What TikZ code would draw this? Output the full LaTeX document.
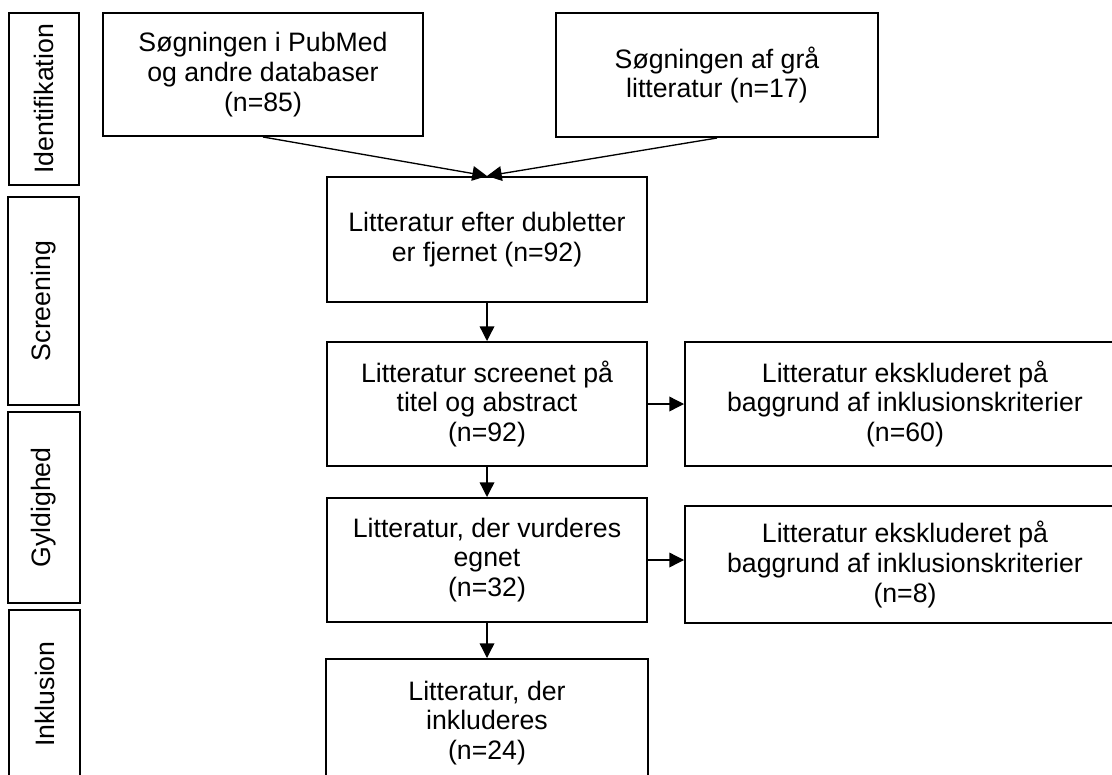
\documentclass[tikz,border=0pt]{standalone}
\usepackage{fontspec}
\setmainfont{Liberation Sans}
\usetikzlibrary{arrows.meta}
\begin{document}
\begin{tikzpicture}[x=0.75pt,y=-0.75pt,
  txtfont/.style={font=\fontsize{20}{22.3}\selectfont},
  box/.style={draw, line width=1.5pt, rectangle, inner sep=0pt, align=center, txtfont},
  bar/.style={draw, line width=1.5pt, rectangle, inner sep=0pt, rotate=90, txtfont},
  arr/.style={line width=1pt, -{Triangle[length=11pt,width=11pt]}}]
\useasboundingbox (0,0) rectangle (1112,774);
\begin{scope}
\clip (0,0) rectangle (1112,774);
% phase bars
\node[bar, minimum width=129pt, minimum height=52.5pt] (p1) at (44,99) {Identifikation};
\node[bar, minimum width=156pt, minimum height=53.25pt] (p2) at (43.5,301) {Screening};
\node[bar, minimum width=143.25pt, minimum height=54pt] (p3) at (44,507.5) {Gyldighed};
\node[bar, minimum width=126pt, minimum height=53.25pt] (p4) at (44.5,694) {Inklusion};
% boxes
\node[box, minimum width=240pt, minimum height=92.25pt] (b1) at (263,74.5) {Søgningen i PubMed\\og andre databaser\\(n=85)};
\node[box, minimum width=241.5pt, minimum height=93pt] (b2) at (717,75) {Søgningen af grå\\litteratur (n=17)};
\node[box, minimum width=240pt, minimum height=93.75pt] (b3) at (487,239.5) {Litteratur efter dubletter\\er fjernet (n=92)};
\node[box, minimum width=240pt, minimum height=93pt] (b4) at (487,404) {Litteratur screenet på\\titel og abstract\\(n=92)};
\node[box, minimum width=330pt, minimum height=93pt] (b5) at (905,404) {Litteratur ekskluderet på\\baggrund af inklusionskriterier\\(n=60)};
\node[box, minimum width=240pt, minimum height=93pt] (b6) at (487,560) {Litteratur, der vurderes\\egnet\\(n=32)};
\node[box, minimum width=330pt, minimum height=87.75pt] (b7) at (905,564.5) {Litteratur ekskluderet på\\baggrund af inklusionskriterier\\(n=8)};
\node[box, minimum width=241.5pt, minimum height=96pt] (b8) at (487,723) {Litteratur, der\\inkluderes\\(n=24)};
% connectors
\draw[arr] (b1.south) -- (b3.north);
\draw[arr] (b2.south) -- (b3.north);
\draw[arr] (b3.south) -- (b4.north);
\draw[arr] (b4.east) -- (b4.east -| b5.west);
\draw[arr] (b4.south) -- (b6.north);
\draw[arr] (b6.east) -- (b6.east -| b7.west);
\draw[arr] (b6.south) -- (b8.north);
\end{scope}
\end{tikzpicture}
\end{document}
